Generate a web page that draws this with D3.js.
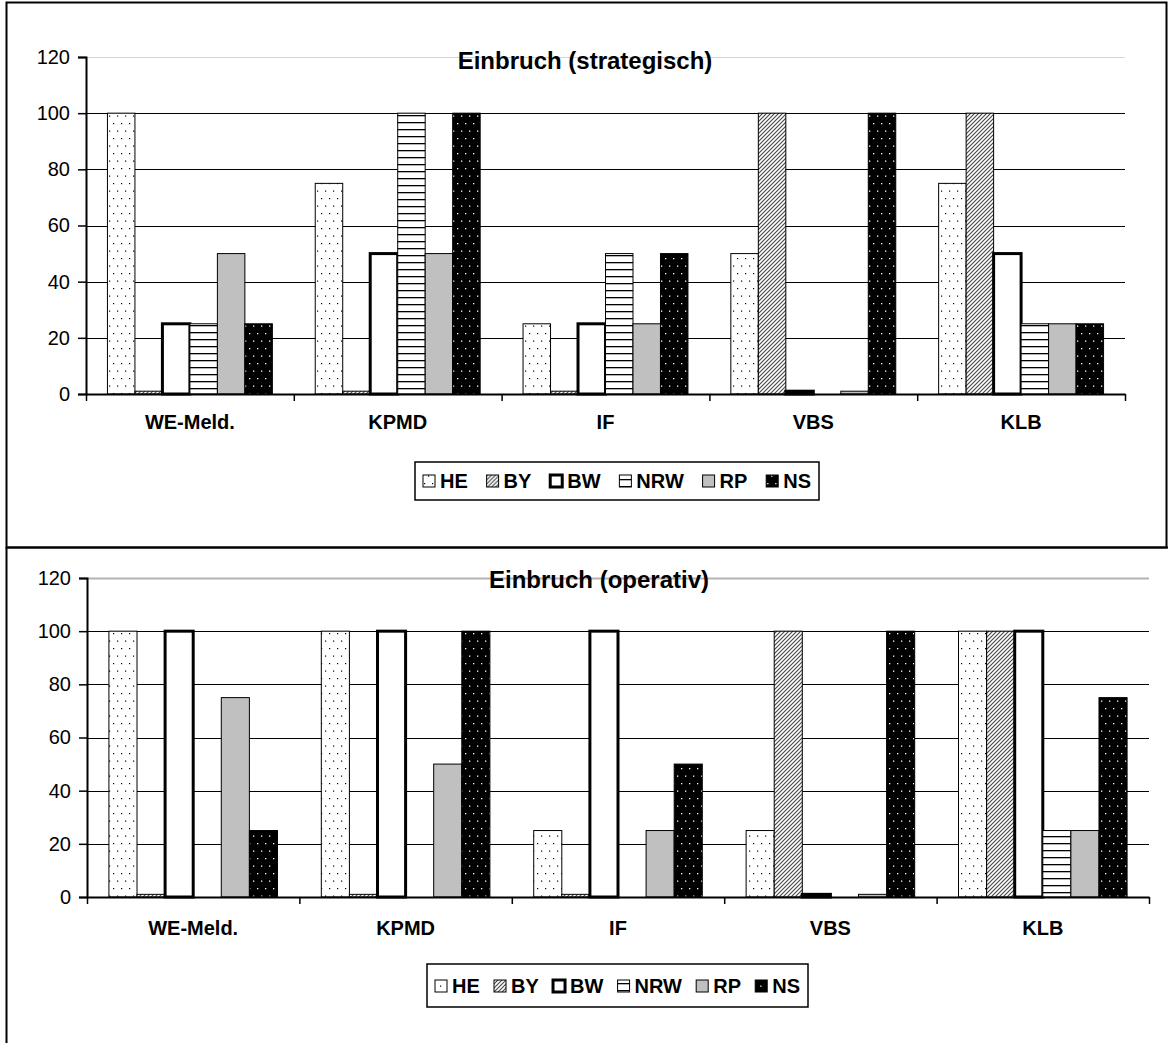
<!DOCTYPE html>
<html>
<head>
<meta charset="utf-8">
<script src="https://cdn.jsdelivr.net/npm/d3@7"></script>
<style>
  body { margin: 0; background: #fff; }
  svg { display: block; font-family: "Liberation Sans", Arial, sans-serif; }
</style>
</head>
<body>
<svg id="page" width="1168" height="1043"></svg>
<script>
// categories and series
var categories = ["WE-Meld.", "KPMD", "IF", "VBS", "KLB"];
var seriesNames = ["HE", "BY", "BW", "NRW", "RP", "NS"];
var yTicks = [0, 20, 40, 60, 80, 100, 120];

// Einbruch (strategisch)
var stratHE  = [100, 75, 25, 50, 75];
var stratBY  = [1, 1, 1, 100, 100];
var stratBW  = [25, 50, 25, 1, 50];
var stratNRW = [25, 100, 50, 0, 25];
var stratRP  = [50, 50, 25, 1, 25];
var stratNS  = [25, 100, 50, 100, 25];

// Einbruch (operativ)
var operHE  = [100, 100, 25, 25, 100];
var operBY  = [1, 1, 1, 100, 100];
var operBW  = [100, 100, 100, 1, 100];
var operNRW = [0, 0, 0, 0, 25];
var operRP  = [75, 50, 25, 1, 25];
var operNS  = [25, 100, 50, 100, 75];

var svg = d3.select("#page");

// fill patterns
var defs = svg.append("defs");
var pHE = defs.append("pattern").attr("id", "pHE").attr("patternUnits", "userSpaceOnUse")
  .attr("width", 8).attr("height", 15);
pHE.append("rect").attr("width", 8).attr("height", 15).attr("fill", "#fff");
pHE.append("rect").attr("x", 1).attr("y", 3).attr("width", 1.2).attr("height", 1.2).attr("fill", "#000");
pHE.append("rect").attr("x", 5).attr("y", 10.5).attr("width", 1.2).attr("height", 1.2).attr("fill", "#000");

var pNS = defs.append("pattern").attr("id", "pNS").attr("patternUnits", "userSpaceOnUse")
  .attr("width", 8).attr("height", 15);
pNS.append("rect").attr("width", 8).attr("height", 15).attr("fill", "#000");
pNS.append("rect").attr("x", 1).attr("y", 3).attr("width", 1.3).attr("height", 1.3).attr("fill", "#fff");
pNS.append("rect").attr("x", 5).attr("y", 10.5).attr("width", 1.3).attr("height", 1.3).attr("fill", "#fff");

var pBY = defs.append("pattern").attr("id", "pBY").attr("patternUnits", "userSpaceOnUse")
  .attr("width", 4).attr("height", 4);
pBY.append("rect").attr("width", 4).attr("height", 4).attr("fill", "#fff");
pBY.append("path").attr("d", "M-1,1 L1,-1 M0,4 L4,0 M3,5 L5,3")
  .attr("stroke", "#444").attr("stroke-width", 1.1);

var pNRW = defs.append("pattern").attr("id", "pNRW").attr("patternUnits", "userSpaceOnUse")
  .attr("width", 8).attr("height", 7);
pNRW.append("rect").attr("width", 8).attr("height", 7).attr("fill", "#fff");
pNRW.append("rect").attr("y", 3).attr("width", 8).attr("height", 1.3).attr("fill", "#000");

var fills = { HE: "url(#pHE)", BY: "url(#pBY)", BW: "#fff", NRW: "url(#pNRW)", RP: "#c0c0c0", NS: "url(#pNS)" };
var strokeW = { HE: 1, BY: 1, BW: 3, NRW: 1, RP: 1, NS: 1 };

// panel borders
svg.append("rect").attr("x", 6.5).attr("y", 2.5).attr("width", 1160).attr("height", 545)
  .attr("fill", "none").attr("stroke", "#000").attr("stroke-width", 2);
svg.append("line").attr("x1", 6.5).attr("x2", 6.5).attr("y1", 547).attr("y2", 1043)
  .attr("stroke", "#000").attr("stroke-width", 2);
svg.append("line").attr("x1", 6).attr("x2", 1168).attr("y1", 547.5).attr("y2", 547.5)
  .attr("stroke", "#000").attr("stroke-width", 2);

function drawChart(cfg) {
  var rows = [cfg.HE, cfg.BY, cfg.BW, cfg.NRW, cfg.RP, cfg.NS];
  var data = [];
  categories.forEach(function(c, i) {
    seriesNames.forEach(function(s, j) { data.push({ cat: c, series: s, value: rows[j][i] }); });
  });

  var g = svg.append("g");
  var x0 = d3.scaleBand().domain(categories).range([cfg.left, cfg.right]).padding(0);
  var x1 = d3.scaleBand().domain(seriesNames).range([0, x0.bandwidth()]).paddingInner(0).paddingOuter(0.78);
  var y = d3.scaleLinear().domain([0, 120]).range([cfg.bottom, cfg.top]);

  // grid
  g.selectAll("line.grid").data(yTicks.slice(1)).enter().append("line")
    .attr("x1", cfg.left).attr("x2", cfg.right)
    .attr("y1", function(d) { return Math.round(y(d)) + 0.5; })
    .attr("y2", function(d) { return Math.round(y(d)) + 0.5; })
    .attr("stroke", function(d) { return d === 120 ? cfg.topGrid : "#000"; })
    .attr("stroke-width", function(d) { return d === 120 ? cfg.topGridW : 1.2; });

  // title
  g.append("text").attr("x", cfg.titleX).attr("y", cfg.titleY).attr("text-anchor", "middle")
    .attr("font-size", 24).attr("font-weight", "bold").text(cfg.title);

  // bars
  g.selectAll("rect.bar").data(data.filter(function(d) { return d.value > 0; })).enter().append("rect")
    .attr("x", function(d) { return x0(d.cat) + x1(d.series); })
    .attr("width", x1.bandwidth())
    .attr("y", function(d) { return y(d.value); })
    .attr("height", function(d) { return y(0) - y(d.value); })
    .attr("fill", function(d) { return fills[d.series]; })
    .attr("stroke", "#000")
    .attr("stroke-width", function(d) { return strokeW[d.series]; });

  // y axis
  var yAxis = g.append("g").attr("transform", "translate(" + cfg.left + ",0)")
    .call(d3.axisLeft(y).tickValues(yTicks).tickSize(8).tickPadding(8));
  yAxis.select(".domain").attr("stroke-width", 2);
  yAxis.selectAll(".tick line").attr("stroke-width", 1.5);
  yAxis.selectAll("text").attr("font-size", 20).attr("fill", "#000")
    .attr("font-family", "Liberation Sans, Arial, sans-serif");

  // x axis with ticks between categories
  var xb = d3.scaleLinear().domain([0, categories.length]).range([cfg.left, cfg.right]);
  var xAxis = g.append("g").attr("transform", "translate(0," + cfg.bottom + ")")
    .call(d3.axisBottom(xb).tickValues(d3.range(categories.length + 1)).tickFormat("").tickSize(7).tickSizeOuter(0));
  xAxis.select(".domain").attr("stroke-width", 2);
  xAxis.selectAll(".tick line").attr("stroke-width", 1.5);

  g.selectAll("text.cat").data(categories).enter().append("text")
    .attr("x", function(d) { return x0(d) + x0.bandwidth() / 2; })
    .attr("y", cfg.labelY).attr("text-anchor", "middle")
    .attr("font-size", 20).attr("font-weight", "bold").text(function(d) { return d; });

  // legend
  var lg = g.append("g");
  lg.append("rect").attr("x", cfg.legX).attr("y", cfg.legY).attr("width", cfg.legW).attr("height", cfg.legH)
    .attr("fill", "#fff").attr("stroke", "#000").attr("stroke-width", 1.5);
  var sym = 12, symGap = 5, pad = 8;
  var items = lg.selectAll("g.item").data(seriesNames).enter().append("g");
  items.append("rect").attr("width", sym).attr("height", sym)
    .attr("y", cfg.legBase - 13)
    .attr("fill", function(d) { return fills[d]; })
    .attr("stroke", "#000")
    .attr("stroke-width", function(d) { return d === "BW" ? 3 : 1; });
  var texts = items.append("text").attr("x", sym + symGap).attr("y", cfg.legBase)
    .attr("font-size", 20).attr("font-weight", "bold").text(function(d) { return d; });
  var widths = [];
  texts.each(function() { widths.push(this.getComputedTextLength()); });
  var total = d3.sum(widths) + seriesNames.length * (sym + symGap);
  var gap = (cfg.legW - 2 * pad - total) / (seriesNames.length - 1);
  var cx = cfg.legX + pad;
  items.each(function(d, i) {
    d3.select(this).attr("transform", "translate(" + cx + ",0)");
    d3.select(this).select("rect").attr("x", 0);
    cx += sym + symGap + widths[i] + gap;
  });
}

drawChart({
  HE: stratHE, BY: stratBY, BW: stratBW, NRW: stratNRW, RP: stratRP, NS: stratNS,
  title: "Einbruch (strategisch)", titleX: 585, titleY: 69,
  left: 86, right: 1125, top: 57, bottom: 394, labelY: 429,
  topGrid: "#d4d4d4", topGridW: 1.2,
  legX: 415, legY: 462, legW: 404, legH: 38, legBase: 488
});

drawChart({
  HE: operHE, BY: operBY, BW: operBW, NRW: operNRW, RP: operRP, NS: operNS,
  title: "Einbruch (operativ)", titleX: 599, titleY: 588,
  left: 87, right: 1149, top: 578, bottom: 897, labelY: 935,
  topGrid: "#b4b4b4", topGridW: 2,
  legX: 427, legY: 964, legW: 381, legH: 43, legBase: 993
});
</script>
</body>
</html>
